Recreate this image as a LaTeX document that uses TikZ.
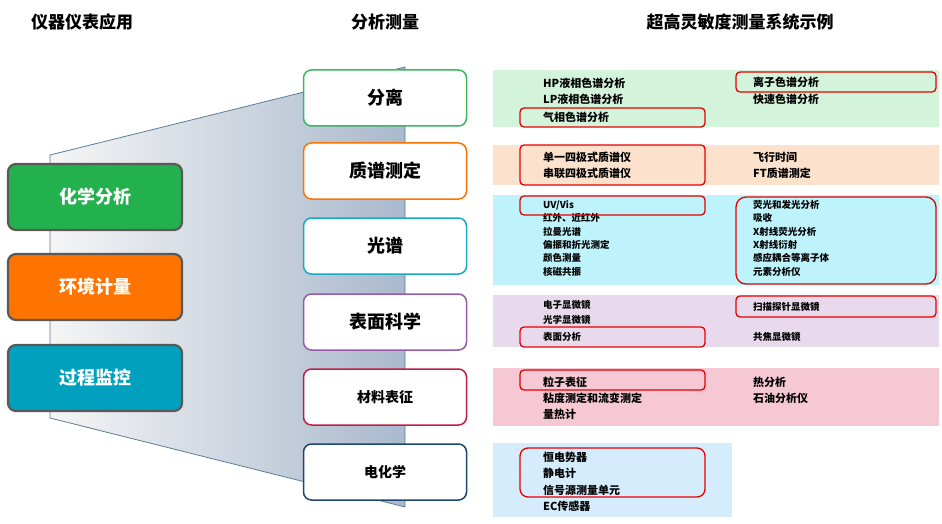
\documentclass[tikz,border=0pt]{standalone}
\usepackage{fontspec}
\setmainfont{Noto Sans CJK SC}
\newfontfamily\cjkb{Noto Sans CJK SC Bold}
\begin{document}
\begin{tikzpicture}[x=1pt,y=-1pt,
  hdr/.style={font=\fontsize{17}{17}\selectfont\bfseries},
  leftbox/.style={rounded corners=8pt,draw=gray!70!black,line width=2.2pt,minimum width=174pt,minimum height=66pt,text=white,font=\fontsize{18}{18}\selectfont\bfseries},
  midbox/.style={rounded corners=8pt,fill=white,line width=1.5pt,minimum width=163pt,minimum height=56pt,font=\fontsize{18}{18}\selectfont\bfseries},
  item/.style={anchor=west,font=\fontsize{11}{11}\selectfont\bfseries,inner sep=0pt},
  sitem/.style={anchor=west,font=\fontsize{9.5}{9.5}\selectfont\bfseries,inner sep=0pt},
  hl/.style={draw=red!90!black,line width=1.3pt,rounded corners=4pt}]
\useasboundingbox (0,0) rectangle (942,524);
\definecolor{cg}{RGB}{34,177,76}
\definecolor{co}{RGB}{255,116,0}
\definecolor{cc}{RGB}{0,160,190}
\definecolor{pg}{RGB}{211,244,218}
\definecolor{po}{RGB}{252,226,205}
\definecolor{pc}{RGB}{190,243,252}
\definecolor{pp}{RGB}{232,218,236}
\definecolor{pk}{RGB}{246,200,212}
\definecolor{pb}{RGB}{213,236,252}
% headers
\node[hdr] (h1) at (82,22) {仪器仪表应用};
\node[hdr] (h2) at (385,22) {分析测量};
\node[hdr] (h3) at (740,22) {超高灵敏度测量系统示例};
% trapezoid
\shade[left color=gray!8,right color={rgb,255:red,170;green,185;blue,205}] (50,155) -- (405,67) -- (405,507) -- (50,418) -- cycle;
\draw[color={rgb,255:red,90;green,125;blue,150},line width=0.8pt] (50,155) -- (405,67) -- (405,507) -- (50,418) -- cycle;
% left boxes
\node[leftbox,fill=cg] (l1) at (95,197) {化学分析};
\node[leftbox,fill=co] (l2) at (95,287) {环境计量};
\node[leftbox,fill=cc] (l3) at (95,378) {过程监控};
% middle boxes
\node[midbox,draw=cg!90] (m1) at (385,98) {分离};
\node[midbox,draw=co] (m2) at (385,171) {质谱测定};
\node[midbox,draw=cc!90] (m3) at (385,246) {光谱};
\node[midbox,draw={rgb,255:red,150;green,90;blue,170}] (m4) at (385,322) {表面科学};
\node[midbox,draw={rgb,255:red,190;green,30;blue,70},font=\fontsize{14}{14}\selectfont\bfseries] (m5) at (385,397) {材料表征};
\node[midbox,draw={rgb,255:red,30;green,70;blue,110},font=\fontsize{14}{14}\selectfont\bfseries] (m6) at (385,472) {电化学};
% panels
\fill[pg] (493,70) rectangle (939,127);
\fill[po] (493,145) rectangle (939,185);
\fill[pc] (493,195) rectangle (939,285);
\fill[pp] (493,295) rectangle (939,347);
\fill[pk] (493,368) rectangle (939,426);
\fill[pb] (493,443) rectangle (732,517);
% green
\node[item] (g1) at (543,83) {HP液相色谱分析};
\node[item] (g2) at (543,99) {LP液相色谱分析};
\node[item] (g3) at (543,117) {气相色谱分析};
\node[item] (g4) at (753,82) {离子色谱分析};
\node[item] (g5) at (753,99) {快速色谱分析};
\draw[hl] (520,108) rectangle (705,127);
\draw[hl] (736,72) rectangle (936,92);
% peach
\node[item] (o1) at (543,157) {单一四极式质谱仪};
\node[item] (o2) at (543,173) {串联四极式质谱仪};
\node[item] (o3) at (753,157) {飞行时间};
\node[item] (o4) at (753,173) {FT质谱测定};
\draw[hl] (520,145) rectangle (705,185);
% cyan
\node[sitem] (c1) at (543,205) {UV/Vis};
\node[sitem] (c2) at (543,218) {红外、近红外};
\node[sitem] (c3) at (543,232) {拉曼光谱};
\node[sitem] (c4) at (543,245) {偏振和折光测定};
\node[sitem] (c5) at (543,258) {颜色测量};
\node[sitem] (c6) at (543,272) {核磁共振};
\node[sitem] (c7) at (753,205) {荧光和发光分析};
\node[sitem] (c8) at (753,218) {吸收};
\node[sitem] (c9) at (753,232) {X射线荧光分析};
\node[sitem] (c10) at (753,245) {X射线衍射};
\node[sitem] (c11) at (753,258) {感应耦合等离子体};
\node[sitem] (c12) at (753,272) {元素分析仪};
\draw[hl] (520,196) rectangle (705,215);
\draw[hl,rounded corners=10pt] (736,197) rectangle (936,284);
% purple
\node[sitem] (p1) at (543,305) {电子显微镜};
\node[sitem] (p2) at (543,320) {光学显微镜};
\node[sitem] (p3) at (543,337) {表面分析};
\node[sitem] (p4) at (753,307) {扫描探针显微镜};
\node[sitem] (p5) at (753,337) {共焦显微镜};
\draw[hl] (520,327) rectangle (705,347);
\draw[hl] (736,296) rectangle (936,317);
% pink
\node[item] (k1) at (543,382) {粒子表征};
\node[item] (k2) at (543,398) {粘度测定和流变测定};
\node[item] (k3) at (543,414) {量热计};
\node[item] (k4) at (753,382) {热分析};
\node[item] (k5) at (753,398) {石油分析仪};
\draw[hl] (520,370) rectangle (705,390);
% blue
\node[item] (b1) at (543,457) {恒电势器};
\node[item] (b2) at (543,473) {静电计};
\node[item] (b3) at (543,490) {信号源测量单元};
\node[item] (b4) at (543,506) {EC传感器};
\draw[hl,rounded corners=8pt] (520,448) rectangle (705,497);
\end{tikzpicture}
\end{document}
